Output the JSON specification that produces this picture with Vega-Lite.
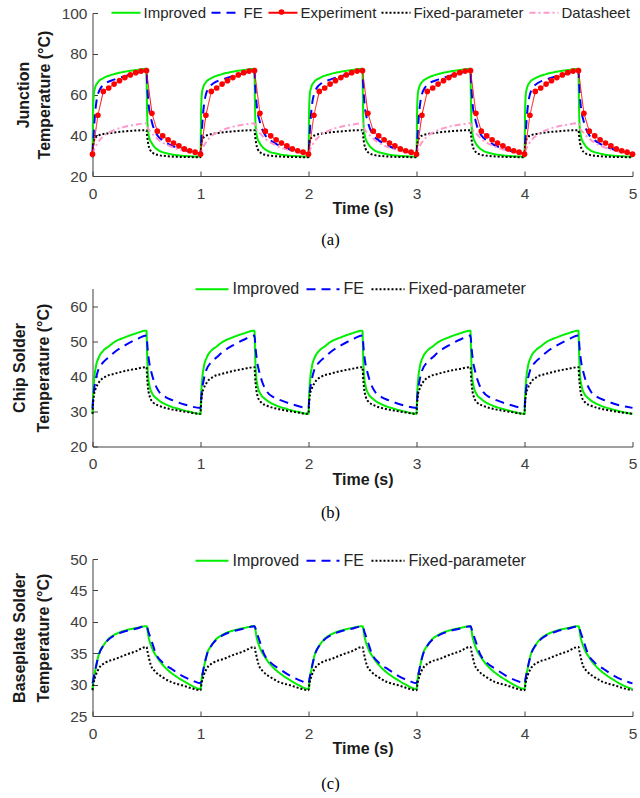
{
"$schema": "https://vega.github.io/schema/vega-lite/v6.json",
"autosize": {"type": "pad"},
"padding": {"left": 10.5, "top": -3, "right": 0, "bottom": 0},
"spacing": 112.5,
"bounds": "flush",
"datasets": {
"a": [
{"s":"Improved","t":0,"v":29.5},{"s":"Improved","t":0.005,"v":50},{"s":"Improved","t":0.012,"v":60},{"s":"Improved","t":0.025,"v":63.5},{"s":"Improved","t":0.05,"v":66},{"s":"Improved","t":0.1,"v":68},{"s":"Improved","t":0.2,"v":70},{"s":"Improved","t":0.3,"v":71.2},{"s":"Improved","t":0.4,"v":72},{"s":"Improved","t":0.5,"v":72.6},{"s":"Improved","t":0.503,"v":60},{"s":"Improved","t":0.51,"v":45},{"s":"Improved","t":0.525,"v":39},{"s":"Improved","t":0.55,"v":36},{"s":"Improved","t":0.6,"v":33},{"s":"Improved","t":0.7,"v":31},{"s":"Improved","t":0.8,"v":30.1},{"s":"Improved","t":0.9,"v":29.7},
{"s":"Improved","t":1,"v":29.5},{"s":"Improved","t":1.005,"v":50},{"s":"Improved","t":1.012,"v":60},{"s":"Improved","t":1.025,"v":63.5},{"s":"Improved","t":1.05,"v":66},{"s":"Improved","t":1.1,"v":68},{"s":"Improved","t":1.2,"v":70},{"s":"Improved","t":1.3,"v":71.2},{"s":"Improved","t":1.4,"v":72},{"s":"Improved","t":1.5,"v":72.6},{"s":"Improved","t":1.503,"v":60},{"s":"Improved","t":1.51,"v":45},{"s":"Improved","t":1.525,"v":39},{"s":"Improved","t":1.55,"v":36},{"s":"Improved","t":1.6,"v":33},{"s":"Improved","t":1.7,"v":31},{"s":"Improved","t":1.8,"v":30.1},{"s":"Improved","t":1.9,"v":29.7},
{"s":"Improved","t":2,"v":29.5},{"s":"Improved","t":2.005,"v":50},{"s":"Improved","t":2.012,"v":60},{"s":"Improved","t":2.025,"v":63.5},{"s":"Improved","t":2.05,"v":66},{"s":"Improved","t":2.1,"v":68},{"s":"Improved","t":2.2,"v":70},{"s":"Improved","t":2.3,"v":71.2},{"s":"Improved","t":2.4,"v":72},{"s":"Improved","t":2.5,"v":72.6},{"s":"Improved","t":2.503,"v":60},{"s":"Improved","t":2.51,"v":45},{"s":"Improved","t":2.525,"v":39},{"s":"Improved","t":2.55,"v":36},{"s":"Improved","t":2.6,"v":33},{"s":"Improved","t":2.7,"v":31},{"s":"Improved","t":2.8,"v":30.1},{"s":"Improved","t":2.9,"v":29.7},
{"s":"Improved","t":3,"v":29.5},{"s":"Improved","t":3.005,"v":50},{"s":"Improved","t":3.012,"v":60},{"s":"Improved","t":3.025,"v":63.5},{"s":"Improved","t":3.05,"v":66},{"s":"Improved","t":3.1,"v":68},{"s":"Improved","t":3.2,"v":70},{"s":"Improved","t":3.3,"v":71.2},{"s":"Improved","t":3.4,"v":72},{"s":"Improved","t":3.5,"v":72.6},{"s":"Improved","t":3.503,"v":60},{"s":"Improved","t":3.51,"v":45},{"s":"Improved","t":3.525,"v":39},{"s":"Improved","t":3.55,"v":36},{"s":"Improved","t":3.6,"v":33},{"s":"Improved","t":3.7,"v":31},{"s":"Improved","t":3.8,"v":30.1},{"s":"Improved","t":3.9,"v":29.7},
{"s":"Improved","t":4,"v":29.5},{"s":"Improved","t":4.005,"v":50},{"s":"Improved","t":4.012,"v":60},{"s":"Improved","t":4.025,"v":63.5},{"s":"Improved","t":4.05,"v":66},{"s":"Improved","t":4.1,"v":68},{"s":"Improved","t":4.2,"v":70},{"s":"Improved","t":4.3,"v":71.2},{"s":"Improved","t":4.4,"v":72},{"s":"Improved","t":4.5,"v":72.6},{"s":"Improved","t":4.503,"v":60},{"s":"Improved","t":4.51,"v":45},{"s":"Improved","t":4.525,"v":39},{"s":"Improved","t":4.55,"v":36},{"s":"Improved","t":4.6,"v":33},{"s":"Improved","t":4.7,"v":31},{"s":"Improved","t":4.8,"v":30.1},{"s":"Improved","t":4.9,"v":29.7},
{"s":"Improved","t":5,"v":29.5},
{"s":"FE","t":0,"v":31},{"s":"FE","t":0.01,"v":40},{"s":"FE","t":0.02,"v":48},{"s":"FE","t":0.035,"v":56},{"s":"FE","t":0.05,"v":60},{"s":"FE","t":0.08,"v":63.5},{"s":"FE","t":0.12,"v":65.5},{"s":"FE","t":0.2,"v":67.3},{"s":"FE","t":0.3,"v":69},{"s":"FE","t":0.4,"v":70.4},{"s":"FE","t":0.5,"v":71.6},{"s":"FE","t":0.505,"v":66},{"s":"FE","t":0.52,"v":55},{"s":"FE","t":0.55,"v":46.5},{"s":"FE","t":0.6,"v":40},{"s":"FE","t":0.65,"v":37.5},{"s":"FE","t":0.7,"v":35.8},{"s":"FE","t":0.8,"v":33.5},{"s":"FE","t":0.9,"v":32},
{"s":"FE","t":1,"v":31},{"s":"FE","t":1.01,"v":40},{"s":"FE","t":1.02,"v":48},{"s":"FE","t":1.035,"v":56},{"s":"FE","t":1.05,"v":60},{"s":"FE","t":1.08,"v":63.5},{"s":"FE","t":1.12,"v":65.5},{"s":"FE","t":1.2,"v":67.3},{"s":"FE","t":1.3,"v":69},{"s":"FE","t":1.4,"v":70.4},{"s":"FE","t":1.5,"v":71.6},{"s":"FE","t":1.505,"v":66},{"s":"FE","t":1.52,"v":55},{"s":"FE","t":1.55,"v":46.5},{"s":"FE","t":1.6,"v":40},{"s":"FE","t":1.65,"v":37.5},{"s":"FE","t":1.7,"v":35.8},{"s":"FE","t":1.8,"v":33.5},{"s":"FE","t":1.9,"v":32},
{"s":"FE","t":2,"v":31},{"s":"FE","t":2.01,"v":40},{"s":"FE","t":2.02,"v":48},{"s":"FE","t":2.035,"v":56},{"s":"FE","t":2.05,"v":60},{"s":"FE","t":2.08,"v":63.5},{"s":"FE","t":2.12,"v":65.5},{"s":"FE","t":2.2,"v":67.3},{"s":"FE","t":2.3,"v":69},{"s":"FE","t":2.4,"v":70.4},{"s":"FE","t":2.5,"v":71.6},{"s":"FE","t":2.505,"v":66},{"s":"FE","t":2.52,"v":55},{"s":"FE","t":2.55,"v":46.5},{"s":"FE","t":2.6,"v":40},{"s":"FE","t":2.65,"v":37.5},{"s":"FE","t":2.7,"v":35.8},{"s":"FE","t":2.8,"v":33.5},{"s":"FE","t":2.9,"v":32},
{"s":"FE","t":3,"v":31},{"s":"FE","t":3.01,"v":40},{"s":"FE","t":3.02,"v":48},{"s":"FE","t":3.035,"v":56},{"s":"FE","t":3.05,"v":60},{"s":"FE","t":3.08,"v":63.5},{"s":"FE","t":3.12,"v":65.5},{"s":"FE","t":3.2,"v":67.3},{"s":"FE","t":3.3,"v":69},{"s":"FE","t":3.4,"v":70.4},{"s":"FE","t":3.5,"v":71.6},{"s":"FE","t":3.505,"v":66},{"s":"FE","t":3.52,"v":55},{"s":"FE","t":3.55,"v":46.5},{"s":"FE","t":3.6,"v":40},{"s":"FE","t":3.65,"v":37.5},{"s":"FE","t":3.7,"v":35.8},{"s":"FE","t":3.8,"v":33.5},{"s":"FE","t":3.9,"v":32},
{"s":"FE","t":4,"v":31},{"s":"FE","t":4.01,"v":40},{"s":"FE","t":4.02,"v":48},{"s":"FE","t":4.035,"v":56},{"s":"FE","t":4.05,"v":60},{"s":"FE","t":4.08,"v":63.5},{"s":"FE","t":4.12,"v":65.5},{"s":"FE","t":4.2,"v":67.3},{"s":"FE","t":4.3,"v":69},{"s":"FE","t":4.4,"v":70.4},{"s":"FE","t":4.5,"v":71.6},{"s":"FE","t":4.505,"v":66},{"s":"FE","t":4.52,"v":55},{"s":"FE","t":4.55,"v":46.5},{"s":"FE","t":4.6,"v":40},{"s":"FE","t":4.65,"v":37.5},{"s":"FE","t":4.7,"v":35.8},{"s":"FE","t":4.8,"v":33.5},{"s":"FE","t":4.9,"v":32},
{"s":"FE","t":5,"v":31},
{"s":"Experiment","t":0,"v":30.7},{"s":"Experiment","t":0.05,"v":49.8},{"s":"Experiment","t":0.1,"v":61.5},{"s":"Experiment","t":0.15,"v":63.2},{"s":"Experiment","t":0.2,"v":65.1},{"s":"Experiment","t":0.25,"v":66.8},{"s":"Experiment","t":0.3,"v":68.3},{"s":"Experiment","t":0.35,"v":69.6},{"s":"Experiment","t":0.4,"v":70.7},{"s":"Experiment","t":0.45,"v":71.5},{"s":"Experiment","t":0.5,"v":71.7},{"s":"Experiment","t":0.55,"v":50.8},{"s":"Experiment","t":0.6,"v":42},{"s":"Experiment","t":0.65,"v":39.7},{"s":"Experiment","t":0.7,"v":37.8},{"s":"Experiment","t":0.75,"v":36.2},{"s":"Experiment","t":0.8,"v":34.8},{"s":"Experiment","t":0.85,"v":33.3},{"s":"Experiment","t":0.9,"v":32.4},{"s":"Experiment","t":0.95,"v":31.7},
{"s":"Experiment","t":1,"v":30.7},{"s":"Experiment","t":1.05,"v":49.8},{"s":"Experiment","t":1.1,"v":61.5},{"s":"Experiment","t":1.15,"v":63.2},{"s":"Experiment","t":1.2,"v":65.1},{"s":"Experiment","t":1.25,"v":66.8},{"s":"Experiment","t":1.3,"v":68.3},{"s":"Experiment","t":1.35,"v":69.6},{"s":"Experiment","t":1.4,"v":70.7},{"s":"Experiment","t":1.45,"v":71.5},{"s":"Experiment","t":1.5,"v":71.7},{"s":"Experiment","t":1.55,"v":50.8},{"s":"Experiment","t":1.6,"v":42},{"s":"Experiment","t":1.65,"v":39.7},{"s":"Experiment","t":1.7,"v":37.8},{"s":"Experiment","t":1.75,"v":36.2},{"s":"Experiment","t":1.8,"v":34.8},{"s":"Experiment","t":1.85,"v":33.3},{"s":"Experiment","t":1.9,"v":32.4},{"s":"Experiment","t":1.95,"v":31.7},
{"s":"Experiment","t":2,"v":30.7},{"s":"Experiment","t":2.05,"v":49.8},{"s":"Experiment","t":2.1,"v":61.5},{"s":"Experiment","t":2.15,"v":63.2},{"s":"Experiment","t":2.2,"v":65.1},{"s":"Experiment","t":2.25,"v":66.8},{"s":"Experiment","t":2.3,"v":68.3},{"s":"Experiment","t":2.35,"v":69.6},{"s":"Experiment","t":2.4,"v":70.7},{"s":"Experiment","t":2.45,"v":71.5},{"s":"Experiment","t":2.5,"v":71.7},{"s":"Experiment","t":2.55,"v":50.8},{"s":"Experiment","t":2.6,"v":42},{"s":"Experiment","t":2.65,"v":39.7},{"s":"Experiment","t":2.7,"v":37.8},{"s":"Experiment","t":2.75,"v":36.2},{"s":"Experiment","t":2.8,"v":34.8},{"s":"Experiment","t":2.85,"v":33.3},{"s":"Experiment","t":2.9,"v":32.4},{"s":"Experiment","t":2.95,"v":31.7},
{"s":"Experiment","t":3,"v":30.7},{"s":"Experiment","t":3.05,"v":49.8},{"s":"Experiment","t":3.1,"v":61.5},{"s":"Experiment","t":3.15,"v":63.2},{"s":"Experiment","t":3.2,"v":65.1},{"s":"Experiment","t":3.25,"v":66.8},{"s":"Experiment","t":3.3,"v":68.3},{"s":"Experiment","t":3.35,"v":69.6},{"s":"Experiment","t":3.4,"v":70.7},{"s":"Experiment","t":3.45,"v":71.5},{"s":"Experiment","t":3.5,"v":71.7},{"s":"Experiment","t":3.55,"v":50.8},{"s":"Experiment","t":3.6,"v":42},{"s":"Experiment","t":3.65,"v":39.7},{"s":"Experiment","t":3.7,"v":37.8},{"s":"Experiment","t":3.75,"v":36.2},{"s":"Experiment","t":3.8,"v":34.8},{"s":"Experiment","t":3.85,"v":33.3},{"s":"Experiment","t":3.9,"v":32.4},{"s":"Experiment","t":3.95,"v":31.7},
{"s":"Experiment","t":4,"v":30.7},{"s":"Experiment","t":4.05,"v":49.8},{"s":"Experiment","t":4.1,"v":61.5},{"s":"Experiment","t":4.15,"v":63.2},{"s":"Experiment","t":4.2,"v":65.1},{"s":"Experiment","t":4.25,"v":66.8},{"s":"Experiment","t":4.3,"v":68.3},{"s":"Experiment","t":4.35,"v":69.6},{"s":"Experiment","t":4.4,"v":70.7},{"s":"Experiment","t":4.45,"v":71.5},{"s":"Experiment","t":4.5,"v":71.7},{"s":"Experiment","t":4.55,"v":50.8},{"s":"Experiment","t":4.6,"v":42},{"s":"Experiment","t":4.65,"v":39.7},{"s":"Experiment","t":4.7,"v":37.8},{"s":"Experiment","t":4.75,"v":36.2},{"s":"Experiment","t":4.8,"v":34.8},{"s":"Experiment","t":4.85,"v":33.3},{"s":"Experiment","t":4.9,"v":32.4},{"s":"Experiment","t":4.95,"v":31.7},
{"s":"Experiment","t":5,"v":30.7},
{"s":"Fixed-parameter","t":0,"v":29.2},{"s":"Fixed-parameter","t":0.005,"v":34},{"s":"Fixed-parameter","t":0.015,"v":37.5},{"s":"Fixed-parameter","t":0.03,"v":39},{"s":"Fixed-parameter","t":0.06,"v":40},{"s":"Fixed-parameter","t":0.15,"v":41},{"s":"Fixed-parameter","t":0.3,"v":41.9},{"s":"Fixed-parameter","t":0.5,"v":42.5},{"s":"Fixed-parameter","t":0.505,"v":40},{"s":"Fixed-parameter","t":0.515,"v":36},{"s":"Fixed-parameter","t":0.53,"v":33.2},{"s":"Fixed-parameter","t":0.56,"v":31.3},{"s":"Fixed-parameter","t":0.6,"v":30.4},{"s":"Fixed-parameter","t":0.7,"v":29.7},{"s":"Fixed-parameter","t":0.8,"v":29.4},{"s":"Fixed-parameter","t":0.9,"v":29.3},
{"s":"Fixed-parameter","t":1,"v":29.2},{"s":"Fixed-parameter","t":1.005,"v":34},{"s":"Fixed-parameter","t":1.015,"v":37.5},{"s":"Fixed-parameter","t":1.03,"v":39},{"s":"Fixed-parameter","t":1.06,"v":40},{"s":"Fixed-parameter","t":1.15,"v":41},{"s":"Fixed-parameter","t":1.3,"v":41.9},{"s":"Fixed-parameter","t":1.5,"v":42.5},{"s":"Fixed-parameter","t":1.505,"v":40},{"s":"Fixed-parameter","t":1.515,"v":36},{"s":"Fixed-parameter","t":1.53,"v":33.2},{"s":"Fixed-parameter","t":1.56,"v":31.3},{"s":"Fixed-parameter","t":1.6,"v":30.4},{"s":"Fixed-parameter","t":1.7,"v":29.7},{"s":"Fixed-parameter","t":1.8,"v":29.4},{"s":"Fixed-parameter","t":1.9,"v":29.3},
{"s":"Fixed-parameter","t":2,"v":29.2},{"s":"Fixed-parameter","t":2.005,"v":34},{"s":"Fixed-parameter","t":2.015,"v":37.5},{"s":"Fixed-parameter","t":2.03,"v":39},{"s":"Fixed-parameter","t":2.06,"v":40},{"s":"Fixed-parameter","t":2.15,"v":41},{"s":"Fixed-parameter","t":2.3,"v":41.9},{"s":"Fixed-parameter","t":2.5,"v":42.5},{"s":"Fixed-parameter","t":2.505,"v":40},{"s":"Fixed-parameter","t":2.515,"v":36},{"s":"Fixed-parameter","t":2.53,"v":33.2},{"s":"Fixed-parameter","t":2.56,"v":31.3},{"s":"Fixed-parameter","t":2.6,"v":30.4},{"s":"Fixed-parameter","t":2.7,"v":29.7},{"s":"Fixed-parameter","t":2.8,"v":29.4},{"s":"Fixed-parameter","t":2.9,"v":29.3},
{"s":"Fixed-parameter","t":3,"v":29.2},{"s":"Fixed-parameter","t":3.005,"v":34},{"s":"Fixed-parameter","t":3.015,"v":37.5},{"s":"Fixed-parameter","t":3.03,"v":39},{"s":"Fixed-parameter","t":3.06,"v":40},{"s":"Fixed-parameter","t":3.15,"v":41},{"s":"Fixed-parameter","t":3.3,"v":41.9},{"s":"Fixed-parameter","t":3.5,"v":42.5},{"s":"Fixed-parameter","t":3.505,"v":40},{"s":"Fixed-parameter","t":3.515,"v":36},{"s":"Fixed-parameter","t":3.53,"v":33.2},{"s":"Fixed-parameter","t":3.56,"v":31.3},{"s":"Fixed-parameter","t":3.6,"v":30.4},{"s":"Fixed-parameter","t":3.7,"v":29.7},{"s":"Fixed-parameter","t":3.8,"v":29.4},{"s":"Fixed-parameter","t":3.9,"v":29.3},
{"s":"Fixed-parameter","t":4,"v":29.2},{"s":"Fixed-parameter","t":4.005,"v":34},{"s":"Fixed-parameter","t":4.015,"v":37.5},{"s":"Fixed-parameter","t":4.03,"v":39},{"s":"Fixed-parameter","t":4.06,"v":40},{"s":"Fixed-parameter","t":4.15,"v":41},{"s":"Fixed-parameter","t":4.3,"v":41.9},{"s":"Fixed-parameter","t":4.5,"v":42.5},{"s":"Fixed-parameter","t":4.505,"v":40},{"s":"Fixed-parameter","t":4.515,"v":36},{"s":"Fixed-parameter","t":4.53,"v":33.2},{"s":"Fixed-parameter","t":4.56,"v":31.3},{"s":"Fixed-parameter","t":4.6,"v":30.4},{"s":"Fixed-parameter","t":4.7,"v":29.7},{"s":"Fixed-parameter","t":4.8,"v":29.4},{"s":"Fixed-parameter","t":4.9,"v":29.3},
{"s":"Fixed-parameter","t":5,"v":29.2},
{"s":"Datasheet","t":0,"v":30.8},{"s":"Datasheet","t":0.015,"v":33},{"s":"Datasheet","t":0.05,"v":36.5},{"s":"Datasheet","t":0.1,"v":39.5},{"s":"Datasheet","t":0.2,"v":42.5},{"s":"Datasheet","t":0.3,"v":44.2},{"s":"Datasheet","t":0.4,"v":45.2},{"s":"Datasheet","t":0.5,"v":45.9},{"s":"Datasheet","t":0.51,"v":44},{"s":"Datasheet","t":0.55,"v":41},{"s":"Datasheet","t":0.6,"v":38.3},{"s":"Datasheet","t":0.7,"v":35},{"s":"Datasheet","t":0.8,"v":33},{"s":"Datasheet","t":0.9,"v":31.8},
{"s":"Datasheet","t":1,"v":30.8},{"s":"Datasheet","t":1.015,"v":33},{"s":"Datasheet","t":1.05,"v":36.5},{"s":"Datasheet","t":1.1,"v":39.5},{"s":"Datasheet","t":1.2,"v":42.5},{"s":"Datasheet","t":1.3,"v":44.2},{"s":"Datasheet","t":1.4,"v":45.2},{"s":"Datasheet","t":1.5,"v":45.9},{"s":"Datasheet","t":1.51,"v":44},{"s":"Datasheet","t":1.55,"v":41},{"s":"Datasheet","t":1.6,"v":38.3},{"s":"Datasheet","t":1.7,"v":35},{"s":"Datasheet","t":1.8,"v":33},{"s":"Datasheet","t":1.9,"v":31.8},
{"s":"Datasheet","t":2,"v":30.8},{"s":"Datasheet","t":2.015,"v":33},{"s":"Datasheet","t":2.05,"v":36.5},{"s":"Datasheet","t":2.1,"v":39.5},{"s":"Datasheet","t":2.2,"v":42.5},{"s":"Datasheet","t":2.3,"v":44.2},{"s":"Datasheet","t":2.4,"v":45.2},{"s":"Datasheet","t":2.5,"v":45.9},{"s":"Datasheet","t":2.51,"v":44},{"s":"Datasheet","t":2.55,"v":41},{"s":"Datasheet","t":2.6,"v":38.3},{"s":"Datasheet","t":2.7,"v":35},{"s":"Datasheet","t":2.8,"v":33},{"s":"Datasheet","t":2.9,"v":31.8},
{"s":"Datasheet","t":3,"v":30.8},{"s":"Datasheet","t":3.015,"v":33},{"s":"Datasheet","t":3.05,"v":36.5},{"s":"Datasheet","t":3.1,"v":39.5},{"s":"Datasheet","t":3.2,"v":42.5},{"s":"Datasheet","t":3.3,"v":44.2},{"s":"Datasheet","t":3.4,"v":45.2},{"s":"Datasheet","t":3.5,"v":45.9},{"s":"Datasheet","t":3.51,"v":44},{"s":"Datasheet","t":3.55,"v":41},{"s":"Datasheet","t":3.6,"v":38.3},{"s":"Datasheet","t":3.7,"v":35},{"s":"Datasheet","t":3.8,"v":33},{"s":"Datasheet","t":3.9,"v":31.8},
{"s":"Datasheet","t":4,"v":30.8},{"s":"Datasheet","t":4.015,"v":33},{"s":"Datasheet","t":4.05,"v":36.5},{"s":"Datasheet","t":4.1,"v":39.5},{"s":"Datasheet","t":4.2,"v":42.5},{"s":"Datasheet","t":4.3,"v":44.2},{"s":"Datasheet","t":4.4,"v":45.2},{"s":"Datasheet","t":4.5,"v":45.9},{"s":"Datasheet","t":4.51,"v":44},{"s":"Datasheet","t":4.55,"v":41},{"s":"Datasheet","t":4.6,"v":38.3},{"s":"Datasheet","t":4.7,"v":35},{"s":"Datasheet","t":4.8,"v":33},{"s":"Datasheet","t":4.9,"v":31.8},
{"s":"Datasheet","t":5,"v":30.8}
],
"b": [
{"s":"Improved","t":0,"v":29.3},{"s":"Improved","t":0.005,"v":34},{"s":"Improved","t":0.015,"v":39},{"s":"Improved","t":0.03,"v":42.5},{"s":"Improved","t":0.06,"v":45.5},{"s":"Improved","t":0.1,"v":47.3},{"s":"Improved","t":0.15,"v":48.5},{"s":"Improved","t":0.2,"v":49.7},{"s":"Improved","t":0.3,"v":51.1},{"s":"Improved","t":0.4,"v":52.2},{"s":"Improved","t":0.5,"v":53},{"s":"Improved","t":0.505,"v":47},{"s":"Improved","t":0.515,"v":40},{"s":"Improved","t":0.53,"v":37},{"s":"Improved","t":0.555,"v":35},{"s":"Improved","t":0.6,"v":33.5},{"s":"Improved","t":0.7,"v":31.7},{"s":"Improved","t":0.8,"v":30.7},{"s":"Improved","t":0.9,"v":29.9},
{"s":"Improved","t":1,"v":29.3},{"s":"Improved","t":1.005,"v":34},{"s":"Improved","t":1.015,"v":39},{"s":"Improved","t":1.03,"v":42.5},{"s":"Improved","t":1.06,"v":45.5},{"s":"Improved","t":1.1,"v":47.3},{"s":"Improved","t":1.15,"v":48.5},{"s":"Improved","t":1.2,"v":49.7},{"s":"Improved","t":1.3,"v":51.1},{"s":"Improved","t":1.4,"v":52.2},{"s":"Improved","t":1.5,"v":53},{"s":"Improved","t":1.505,"v":47},{"s":"Improved","t":1.515,"v":40},{"s":"Improved","t":1.53,"v":37},{"s":"Improved","t":1.555,"v":35},{"s":"Improved","t":1.6,"v":33.5},{"s":"Improved","t":1.7,"v":31.7},{"s":"Improved","t":1.8,"v":30.7},{"s":"Improved","t":1.9,"v":29.9},
{"s":"Improved","t":2,"v":29.3},{"s":"Improved","t":2.005,"v":34},{"s":"Improved","t":2.015,"v":39},{"s":"Improved","t":2.03,"v":42.5},{"s":"Improved","t":2.06,"v":45.5},{"s":"Improved","t":2.1,"v":47.3},{"s":"Improved","t":2.15,"v":48.5},{"s":"Improved","t":2.2,"v":49.7},{"s":"Improved","t":2.3,"v":51.1},{"s":"Improved","t":2.4,"v":52.2},{"s":"Improved","t":2.5,"v":53},{"s":"Improved","t":2.505,"v":47},{"s":"Improved","t":2.515,"v":40},{"s":"Improved","t":2.53,"v":37},{"s":"Improved","t":2.555,"v":35},{"s":"Improved","t":2.6,"v":33.5},{"s":"Improved","t":2.7,"v":31.7},{"s":"Improved","t":2.8,"v":30.7},{"s":"Improved","t":2.9,"v":29.9},
{"s":"Improved","t":3,"v":29.3},{"s":"Improved","t":3.005,"v":34},{"s":"Improved","t":3.015,"v":39},{"s":"Improved","t":3.03,"v":42.5},{"s":"Improved","t":3.06,"v":45.5},{"s":"Improved","t":3.1,"v":47.3},{"s":"Improved","t":3.15,"v":48.5},{"s":"Improved","t":3.2,"v":49.7},{"s":"Improved","t":3.3,"v":51.1},{"s":"Improved","t":3.4,"v":52.2},{"s":"Improved","t":3.5,"v":53},{"s":"Improved","t":3.505,"v":47},{"s":"Improved","t":3.515,"v":40},{"s":"Improved","t":3.53,"v":37},{"s":"Improved","t":3.555,"v":35},{"s":"Improved","t":3.6,"v":33.5},{"s":"Improved","t":3.7,"v":31.7},{"s":"Improved","t":3.8,"v":30.7},{"s":"Improved","t":3.9,"v":29.9},
{"s":"Improved","t":4,"v":29.3},{"s":"Improved","t":4.005,"v":34},{"s":"Improved","t":4.015,"v":39},{"s":"Improved","t":4.03,"v":42.5},{"s":"Improved","t":4.06,"v":45.5},{"s":"Improved","t":4.1,"v":47.3},{"s":"Improved","t":4.15,"v":48.5},{"s":"Improved","t":4.2,"v":49.7},{"s":"Improved","t":4.3,"v":51.1},{"s":"Improved","t":4.4,"v":52.2},{"s":"Improved","t":4.5,"v":53},{"s":"Improved","t":4.505,"v":47},{"s":"Improved","t":4.515,"v":40},{"s":"Improved","t":4.53,"v":37},{"s":"Improved","t":4.555,"v":35},{"s":"Improved","t":4.6,"v":33.5},{"s":"Improved","t":4.7,"v":31.7},{"s":"Improved","t":4.8,"v":30.7},{"s":"Improved","t":4.9,"v":29.9},
{"s":"Improved","t":5,"v":29.3},
{"s":"FE","t":0,"v":31},{"s":"FE","t":0.01,"v":35},{"s":"FE","t":0.03,"v":39},{"s":"FE","t":0.05,"v":41.5},{"s":"FE","t":0.1,"v":44},{"s":"FE","t":0.15,"v":45.4},{"s":"FE","t":0.2,"v":46.8},{"s":"FE","t":0.3,"v":48.8},{"s":"FE","t":0.4,"v":50.4},{"s":"FE","t":0.5,"v":51.6},{"s":"FE","t":0.51,"v":48},{"s":"FE","t":0.525,"v":44},{"s":"FE","t":0.54,"v":41.8},{"s":"FE","t":0.57,"v":38.5},{"s":"FE","t":0.616,"v":35.6},{"s":"FE","t":0.68,"v":34},{"s":"FE","t":0.74,"v":33.2},{"s":"FE","t":0.86,"v":31.9},
{"s":"FE","t":1,"v":31},{"s":"FE","t":1.01,"v":35},{"s":"FE","t":1.03,"v":39},{"s":"FE","t":1.05,"v":41.5},{"s":"FE","t":1.1,"v":44},{"s":"FE","t":1.15,"v":45.4},{"s":"FE","t":1.2,"v":46.8},{"s":"FE","t":1.3,"v":48.8},{"s":"FE","t":1.4,"v":50.4},{"s":"FE","t":1.5,"v":51.6},{"s":"FE","t":1.51,"v":48},{"s":"FE","t":1.525,"v":44},{"s":"FE","t":1.54,"v":41.8},{"s":"FE","t":1.57,"v":38.5},{"s":"FE","t":1.616,"v":35.6},{"s":"FE","t":1.68,"v":34},{"s":"FE","t":1.74,"v":33.2},{"s":"FE","t":1.86,"v":31.9},
{"s":"FE","t":2,"v":31},{"s":"FE","t":2.01,"v":35},{"s":"FE","t":2.03,"v":39},{"s":"FE","t":2.05,"v":41.5},{"s":"FE","t":2.1,"v":44},{"s":"FE","t":2.15,"v":45.4},{"s":"FE","t":2.2,"v":46.8},{"s":"FE","t":2.3,"v":48.8},{"s":"FE","t":2.4,"v":50.4},{"s":"FE","t":2.5,"v":51.6},{"s":"FE","t":2.51,"v":48},{"s":"FE","t":2.525,"v":44},{"s":"FE","t":2.54,"v":41.8},{"s":"FE","t":2.57,"v":38.5},{"s":"FE","t":2.616,"v":35.6},{"s":"FE","t":2.68,"v":34},{"s":"FE","t":2.74,"v":33.2},{"s":"FE","t":2.86,"v":31.9},
{"s":"FE","t":3,"v":31},{"s":"FE","t":3.01,"v":35},{"s":"FE","t":3.03,"v":39},{"s":"FE","t":3.05,"v":41.5},{"s":"FE","t":3.1,"v":44},{"s":"FE","t":3.15,"v":45.4},{"s":"FE","t":3.2,"v":46.8},{"s":"FE","t":3.3,"v":48.8},{"s":"FE","t":3.4,"v":50.4},{"s":"FE","t":3.5,"v":51.6},{"s":"FE","t":3.51,"v":48},{"s":"FE","t":3.525,"v":44},{"s":"FE","t":3.54,"v":41.8},{"s":"FE","t":3.57,"v":38.5},{"s":"FE","t":3.616,"v":35.6},{"s":"FE","t":3.68,"v":34},{"s":"FE","t":3.74,"v":33.2},{"s":"FE","t":3.86,"v":31.9},
{"s":"FE","t":4,"v":31},{"s":"FE","t":4.01,"v":35},{"s":"FE","t":4.03,"v":39},{"s":"FE","t":4.05,"v":41.5},{"s":"FE","t":4.1,"v":44},{"s":"FE","t":4.15,"v":45.4},{"s":"FE","t":4.2,"v":46.8},{"s":"FE","t":4.3,"v":48.8},{"s":"FE","t":4.4,"v":50.4},{"s":"FE","t":4.5,"v":51.6},{"s":"FE","t":4.51,"v":48},{"s":"FE","t":4.525,"v":44},{"s":"FE","t":4.54,"v":41.8},{"s":"FE","t":4.57,"v":38.5},{"s":"FE","t":4.616,"v":35.6},{"s":"FE","t":4.68,"v":34},{"s":"FE","t":4.74,"v":33.2},{"s":"FE","t":4.86,"v":31.9},
{"s":"FE","t":5,"v":31},
{"s":"Fixed-parameter","t":0,"v":29.3},{"s":"Fixed-parameter","t":0.005,"v":32},{"s":"Fixed-parameter","t":0.015,"v":35},{"s":"Fixed-parameter","t":0.03,"v":36.5},{"s":"Fixed-parameter","t":0.06,"v":38.3},{"s":"Fixed-parameter","t":0.12,"v":39.9},{"s":"Fixed-parameter","t":0.2,"v":40.7},{"s":"Fixed-parameter","t":0.3,"v":41.5},{"s":"Fixed-parameter","t":0.4,"v":42.1},{"s":"Fixed-parameter","t":0.5,"v":42.6},{"s":"Fixed-parameter","t":0.505,"v":40},{"s":"Fixed-parameter","t":0.515,"v":36.5},{"s":"Fixed-parameter","t":0.53,"v":34.2},{"s":"Fixed-parameter","t":0.56,"v":32.6},{"s":"Fixed-parameter","t":0.616,"v":31.6},{"s":"Fixed-parameter","t":0.7,"v":30.8},{"s":"Fixed-parameter","t":0.8,"v":30.2},{"s":"Fixed-parameter","t":0.9,"v":29.7},
{"s":"Fixed-parameter","t":1,"v":29.3},{"s":"Fixed-parameter","t":1.005,"v":32},{"s":"Fixed-parameter","t":1.015,"v":35},{"s":"Fixed-parameter","t":1.03,"v":36.5},{"s":"Fixed-parameter","t":1.06,"v":38.3},{"s":"Fixed-parameter","t":1.12,"v":39.9},{"s":"Fixed-parameter","t":1.2,"v":40.7},{"s":"Fixed-parameter","t":1.3,"v":41.5},{"s":"Fixed-parameter","t":1.4,"v":42.1},{"s":"Fixed-parameter","t":1.5,"v":42.6},{"s":"Fixed-parameter","t":1.505,"v":40},{"s":"Fixed-parameter","t":1.515,"v":36.5},{"s":"Fixed-parameter","t":1.53,"v":34.2},{"s":"Fixed-parameter","t":1.56,"v":32.6},{"s":"Fixed-parameter","t":1.616,"v":31.6},{"s":"Fixed-parameter","t":1.7,"v":30.8},{"s":"Fixed-parameter","t":1.8,"v":30.2},{"s":"Fixed-parameter","t":1.9,"v":29.7},
{"s":"Fixed-parameter","t":2,"v":29.3},{"s":"Fixed-parameter","t":2.005,"v":32},{"s":"Fixed-parameter","t":2.015,"v":35},{"s":"Fixed-parameter","t":2.03,"v":36.5},{"s":"Fixed-parameter","t":2.06,"v":38.3},{"s":"Fixed-parameter","t":2.12,"v":39.9},{"s":"Fixed-parameter","t":2.2,"v":40.7},{"s":"Fixed-parameter","t":2.3,"v":41.5},{"s":"Fixed-parameter","t":2.4,"v":42.1},{"s":"Fixed-parameter","t":2.5,"v":42.6},{"s":"Fixed-parameter","t":2.505,"v":40},{"s":"Fixed-parameter","t":2.515,"v":36.5},{"s":"Fixed-parameter","t":2.53,"v":34.2},{"s":"Fixed-parameter","t":2.56,"v":32.6},{"s":"Fixed-parameter","t":2.616,"v":31.6},{"s":"Fixed-parameter","t":2.7,"v":30.8},{"s":"Fixed-parameter","t":2.8,"v":30.2},{"s":"Fixed-parameter","t":2.9,"v":29.7},
{"s":"Fixed-parameter","t":3,"v":29.3},{"s":"Fixed-parameter","t":3.005,"v":32},{"s":"Fixed-parameter","t":3.015,"v":35},{"s":"Fixed-parameter","t":3.03,"v":36.5},{"s":"Fixed-parameter","t":3.06,"v":38.3},{"s":"Fixed-parameter","t":3.12,"v":39.9},{"s":"Fixed-parameter","t":3.2,"v":40.7},{"s":"Fixed-parameter","t":3.3,"v":41.5},{"s":"Fixed-parameter","t":3.4,"v":42.1},{"s":"Fixed-parameter","t":3.5,"v":42.6},{"s":"Fixed-parameter","t":3.505,"v":40},{"s":"Fixed-parameter","t":3.515,"v":36.5},{"s":"Fixed-parameter","t":3.53,"v":34.2},{"s":"Fixed-parameter","t":3.56,"v":32.6},{"s":"Fixed-parameter","t":3.616,"v":31.6},{"s":"Fixed-parameter","t":3.7,"v":30.8},{"s":"Fixed-parameter","t":3.8,"v":30.2},{"s":"Fixed-parameter","t":3.9,"v":29.7},
{"s":"Fixed-parameter","t":4,"v":29.3},{"s":"Fixed-parameter","t":4.005,"v":32},{"s":"Fixed-parameter","t":4.015,"v":35},{"s":"Fixed-parameter","t":4.03,"v":36.5},{"s":"Fixed-parameter","t":4.06,"v":38.3},{"s":"Fixed-parameter","t":4.12,"v":39.9},{"s":"Fixed-parameter","t":4.2,"v":40.7},{"s":"Fixed-parameter","t":4.3,"v":41.5},{"s":"Fixed-parameter","t":4.4,"v":42.1},{"s":"Fixed-parameter","t":4.5,"v":42.6},{"s":"Fixed-parameter","t":4.505,"v":40},{"s":"Fixed-parameter","t":4.515,"v":36.5},{"s":"Fixed-parameter","t":4.53,"v":34.2},{"s":"Fixed-parameter","t":4.56,"v":32.6},{"s":"Fixed-parameter","t":4.616,"v":31.6},{"s":"Fixed-parameter","t":4.7,"v":30.8},{"s":"Fixed-parameter","t":4.8,"v":30.2},{"s":"Fixed-parameter","t":4.9,"v":29.7},
{"s":"Fixed-parameter","t":5,"v":29.3}
],
"c": [
{"s":"Improved","t":0,"v":29.3},{"s":"Improved","t":0.01,"v":30.8},{"s":"Improved","t":0.03,"v":32.6},{"s":"Improved","t":0.06,"v":34.9},{"s":"Improved","t":0.1,"v":36.2},{"s":"Improved","t":0.15,"v":37.3},{"s":"Improved","t":0.2,"v":37.9},{"s":"Improved","t":0.3,"v":38.6},{"s":"Improved","t":0.4,"v":39},{"s":"Improved","t":0.5,"v":39.3},{"s":"Improved","t":0.52,"v":37.5},{"s":"Improved","t":0.554,"v":35.7},{"s":"Improved","t":0.6,"v":34.3},{"s":"Improved","t":0.68,"v":32.6},{"s":"Improved","t":0.75,"v":31.6},{"s":"Improved","t":0.83,"v":30.7},{"s":"Improved","t":0.9,"v":30},
{"s":"Improved","t":1,"v":29.3},{"s":"Improved","t":1.01,"v":30.8},{"s":"Improved","t":1.03,"v":32.6},{"s":"Improved","t":1.06,"v":34.9},{"s":"Improved","t":1.1,"v":36.2},{"s":"Improved","t":1.15,"v":37.3},{"s":"Improved","t":1.2,"v":37.9},{"s":"Improved","t":1.3,"v":38.6},{"s":"Improved","t":1.4,"v":39},{"s":"Improved","t":1.5,"v":39.3},{"s":"Improved","t":1.52,"v":37.5},{"s":"Improved","t":1.554,"v":35.7},{"s":"Improved","t":1.6,"v":34.3},{"s":"Improved","t":1.68,"v":32.6},{"s":"Improved","t":1.75,"v":31.6},{"s":"Improved","t":1.83,"v":30.7},{"s":"Improved","t":1.9,"v":30},
{"s":"Improved","t":2,"v":29.3},{"s":"Improved","t":2.01,"v":30.8},{"s":"Improved","t":2.03,"v":32.6},{"s":"Improved","t":2.06,"v":34.9},{"s":"Improved","t":2.1,"v":36.2},{"s":"Improved","t":2.15,"v":37.3},{"s":"Improved","t":2.2,"v":37.9},{"s":"Improved","t":2.3,"v":38.6},{"s":"Improved","t":2.4,"v":39},{"s":"Improved","t":2.5,"v":39.3},{"s":"Improved","t":2.52,"v":37.5},{"s":"Improved","t":2.554,"v":35.7},{"s":"Improved","t":2.6,"v":34.3},{"s":"Improved","t":2.68,"v":32.6},{"s":"Improved","t":2.75,"v":31.6},{"s":"Improved","t":2.83,"v":30.7},{"s":"Improved","t":2.9,"v":30},
{"s":"Improved","t":3,"v":29.3},{"s":"Improved","t":3.01,"v":30.8},{"s":"Improved","t":3.03,"v":32.6},{"s":"Improved","t":3.06,"v":34.9},{"s":"Improved","t":3.1,"v":36.2},{"s":"Improved","t":3.15,"v":37.3},{"s":"Improved","t":3.2,"v":37.9},{"s":"Improved","t":3.3,"v":38.6},{"s":"Improved","t":3.4,"v":39},{"s":"Improved","t":3.5,"v":39.3},{"s":"Improved","t":3.52,"v":37.5},{"s":"Improved","t":3.554,"v":35.7},{"s":"Improved","t":3.6,"v":34.3},{"s":"Improved","t":3.68,"v":32.6},{"s":"Improved","t":3.75,"v":31.6},{"s":"Improved","t":3.83,"v":30.7},{"s":"Improved","t":3.9,"v":30},
{"s":"Improved","t":4,"v":29.3},{"s":"Improved","t":4.01,"v":30.8},{"s":"Improved","t":4.03,"v":32.6},{"s":"Improved","t":4.06,"v":34.9},{"s":"Improved","t":4.1,"v":36.2},{"s":"Improved","t":4.15,"v":37.3},{"s":"Improved","t":4.2,"v":37.9},{"s":"Improved","t":4.3,"v":38.6},{"s":"Improved","t":4.4,"v":39},{"s":"Improved","t":4.5,"v":39.3},{"s":"Improved","t":4.52,"v":37.5},{"s":"Improved","t":4.554,"v":35.7},{"s":"Improved","t":4.6,"v":34.3},{"s":"Improved","t":4.68,"v":32.6},{"s":"Improved","t":4.75,"v":31.6},{"s":"Improved","t":4.83,"v":30.7},{"s":"Improved","t":4.9,"v":30},
{"s":"Improved","t":5,"v":29.3},
{"s":"FE","t":0,"v":30.2},{"s":"FE","t":0.01,"v":31},{"s":"FE","t":0.03,"v":32.7},{"s":"FE","t":0.06,"v":34.8},{"s":"FE","t":0.1,"v":36.2},{"s":"FE","t":0.15,"v":37.2},{"s":"FE","t":0.2,"v":37.8},{"s":"FE","t":0.3,"v":38.5},{"s":"FE","t":0.4,"v":38.9},{"s":"FE","t":0.5,"v":39.3},{"s":"FE","t":0.52,"v":38.3},{"s":"FE","t":0.55,"v":36.8},{"s":"FE","t":0.585,"v":35},{"s":"FE","t":0.65,"v":33.5},{"s":"FE","t":0.74,"v":32.4},{"s":"FE","t":0.83,"v":31.4},{"s":"FE","t":0.93,"v":30.6},
{"s":"FE","t":1,"v":30.2},{"s":"FE","t":1.01,"v":31},{"s":"FE","t":1.03,"v":32.7},{"s":"FE","t":1.06,"v":34.8},{"s":"FE","t":1.1,"v":36.2},{"s":"FE","t":1.15,"v":37.2},{"s":"FE","t":1.2,"v":37.8},{"s":"FE","t":1.3,"v":38.5},{"s":"FE","t":1.4,"v":38.9},{"s":"FE","t":1.5,"v":39.3},{"s":"FE","t":1.52,"v":38.3},{"s":"FE","t":1.55,"v":36.8},{"s":"FE","t":1.585,"v":35},{"s":"FE","t":1.65,"v":33.5},{"s":"FE","t":1.74,"v":32.4},{"s":"FE","t":1.83,"v":31.4},{"s":"FE","t":1.93,"v":30.6},
{"s":"FE","t":2,"v":30.2},{"s":"FE","t":2.01,"v":31},{"s":"FE","t":2.03,"v":32.7},{"s":"FE","t":2.06,"v":34.8},{"s":"FE","t":2.1,"v":36.2},{"s":"FE","t":2.15,"v":37.2},{"s":"FE","t":2.2,"v":37.8},{"s":"FE","t":2.3,"v":38.5},{"s":"FE","t":2.4,"v":38.9},{"s":"FE","t":2.5,"v":39.3},{"s":"FE","t":2.52,"v":38.3},{"s":"FE","t":2.55,"v":36.8},{"s":"FE","t":2.585,"v":35},{"s":"FE","t":2.65,"v":33.5},{"s":"FE","t":2.74,"v":32.4},{"s":"FE","t":2.83,"v":31.4},{"s":"FE","t":2.93,"v":30.6},
{"s":"FE","t":3,"v":30.2},{"s":"FE","t":3.01,"v":31},{"s":"FE","t":3.03,"v":32.7},{"s":"FE","t":3.06,"v":34.8},{"s":"FE","t":3.1,"v":36.2},{"s":"FE","t":3.15,"v":37.2},{"s":"FE","t":3.2,"v":37.8},{"s":"FE","t":3.3,"v":38.5},{"s":"FE","t":3.4,"v":38.9},{"s":"FE","t":3.5,"v":39.3},{"s":"FE","t":3.52,"v":38.3},{"s":"FE","t":3.55,"v":36.8},{"s":"FE","t":3.585,"v":35},{"s":"FE","t":3.65,"v":33.5},{"s":"FE","t":3.74,"v":32.4},{"s":"FE","t":3.83,"v":31.4},{"s":"FE","t":3.93,"v":30.6},
{"s":"FE","t":4,"v":30.2},{"s":"FE","t":4.01,"v":31},{"s":"FE","t":4.03,"v":32.7},{"s":"FE","t":4.06,"v":34.8},{"s":"FE","t":4.1,"v":36.2},{"s":"FE","t":4.15,"v":37.2},{"s":"FE","t":4.2,"v":37.8},{"s":"FE","t":4.3,"v":38.5},{"s":"FE","t":4.4,"v":38.9},{"s":"FE","t":4.5,"v":39.3},{"s":"FE","t":4.52,"v":38.3},{"s":"FE","t":4.55,"v":36.8},{"s":"FE","t":4.585,"v":35},{"s":"FE","t":4.65,"v":33.5},{"s":"FE","t":4.74,"v":32.4},{"s":"FE","t":4.83,"v":31.4},{"s":"FE","t":4.93,"v":30.6},
{"s":"FE","t":5,"v":30.2},
{"s":"Fixed-parameter","t":0,"v":29.1},{"s":"Fixed-parameter","t":0.01,"v":30.2},{"s":"Fixed-parameter","t":0.03,"v":31.5},{"s":"Fixed-parameter","t":0.06,"v":32.6},{"s":"Fixed-parameter","t":0.12,"v":33.5},{"s":"Fixed-parameter","t":0.216,"v":34.1},{"s":"Fixed-parameter","t":0.3,"v":34.7},{"s":"Fixed-parameter","t":0.4,"v":35.3},{"s":"Fixed-parameter","t":0.5,"v":36},{"s":"Fixed-parameter","t":0.51,"v":35.2},{"s":"Fixed-parameter","t":0.54,"v":33.1},{"s":"Fixed-parameter","t":0.58,"v":32.1},{"s":"Fixed-parameter","t":0.646,"v":31.2},{"s":"Fixed-parameter","t":0.73,"v":30.4},{"s":"Fixed-parameter","t":0.83,"v":29.9},{"s":"Fixed-parameter","t":0.92,"v":29.4},
{"s":"Fixed-parameter","t":1,"v":29.1},{"s":"Fixed-parameter","t":1.01,"v":30.2},{"s":"Fixed-parameter","t":1.03,"v":31.5},{"s":"Fixed-parameter","t":1.06,"v":32.6},{"s":"Fixed-parameter","t":1.12,"v":33.5},{"s":"Fixed-parameter","t":1.216,"v":34.1},{"s":"Fixed-parameter","t":1.3,"v":34.7},{"s":"Fixed-parameter","t":1.4,"v":35.3},{"s":"Fixed-parameter","t":1.5,"v":36},{"s":"Fixed-parameter","t":1.51,"v":35.2},{"s":"Fixed-parameter","t":1.54,"v":33.1},{"s":"Fixed-parameter","t":1.58,"v":32.1},{"s":"Fixed-parameter","t":1.646,"v":31.2},{"s":"Fixed-parameter","t":1.73,"v":30.4},{"s":"Fixed-parameter","t":1.83,"v":29.9},{"s":"Fixed-parameter","t":1.92,"v":29.4},
{"s":"Fixed-parameter","t":2,"v":29.1},{"s":"Fixed-parameter","t":2.01,"v":30.2},{"s":"Fixed-parameter","t":2.03,"v":31.5},{"s":"Fixed-parameter","t":2.06,"v":32.6},{"s":"Fixed-parameter","t":2.12,"v":33.5},{"s":"Fixed-parameter","t":2.216,"v":34.1},{"s":"Fixed-parameter","t":2.3,"v":34.7},{"s":"Fixed-parameter","t":2.4,"v":35.3},{"s":"Fixed-parameter","t":2.5,"v":36},{"s":"Fixed-parameter","t":2.51,"v":35.2},{"s":"Fixed-parameter","t":2.54,"v":33.1},{"s":"Fixed-parameter","t":2.58,"v":32.1},{"s":"Fixed-parameter","t":2.646,"v":31.2},{"s":"Fixed-parameter","t":2.73,"v":30.4},{"s":"Fixed-parameter","t":2.83,"v":29.9},{"s":"Fixed-parameter","t":2.92,"v":29.4},
{"s":"Fixed-parameter","t":3,"v":29.1},{"s":"Fixed-parameter","t":3.01,"v":30.2},{"s":"Fixed-parameter","t":3.03,"v":31.5},{"s":"Fixed-parameter","t":3.06,"v":32.6},{"s":"Fixed-parameter","t":3.12,"v":33.5},{"s":"Fixed-parameter","t":3.216,"v":34.1},{"s":"Fixed-parameter","t":3.3,"v":34.7},{"s":"Fixed-parameter","t":3.4,"v":35.3},{"s":"Fixed-parameter","t":3.5,"v":36},{"s":"Fixed-parameter","t":3.51,"v":35.2},{"s":"Fixed-parameter","t":3.54,"v":33.1},{"s":"Fixed-parameter","t":3.58,"v":32.1},{"s":"Fixed-parameter","t":3.646,"v":31.2},{"s":"Fixed-parameter","t":3.73,"v":30.4},{"s":"Fixed-parameter","t":3.83,"v":29.9},{"s":"Fixed-parameter","t":3.92,"v":29.4},
{"s":"Fixed-parameter","t":4,"v":29.1},{"s":"Fixed-parameter","t":4.01,"v":30.2},{"s":"Fixed-parameter","t":4.03,"v":31.5},{"s":"Fixed-parameter","t":4.06,"v":32.6},{"s":"Fixed-parameter","t":4.12,"v":33.5},{"s":"Fixed-parameter","t":4.216,"v":34.1},{"s":"Fixed-parameter","t":4.3,"v":34.7},{"s":"Fixed-parameter","t":4.4,"v":35.3},{"s":"Fixed-parameter","t":4.5,"v":36},{"s":"Fixed-parameter","t":4.51,"v":35.2},{"s":"Fixed-parameter","t":4.54,"v":33.1},{"s":"Fixed-parameter","t":4.58,"v":32.1},{"s":"Fixed-parameter","t":4.646,"v":31.2},{"s":"Fixed-parameter","t":4.73,"v":30.4},{"s":"Fixed-parameter","t":4.83,"v":29.9},{"s":"Fixed-parameter","t":4.92,"v":29.4},
{"s":"Fixed-parameter","t":5,"v":29.1}
]
},
"vconcat": [
{
"data": {"name": "a"},
"width": 540, "height": 163,
"title": {"text": "(a)", "offset": 15},
"encoding": {
"x": {"field": "t", "type": "quantitative", "scale": {"domain": [0, 5], "nice": false}, "axis": {"title": "Time (s)", "values": [0, 1, 2, 3, 4, 5]}},
"y": {"field": "v", "type": "quantitative", "scale": {"domain": [20, 100], "nice": false}, "axis": {"title": ["Junction", "Temperature (°C)"], "values": [20, 40, 60, 80, 100], "titlePadding": 9}}
},
"layer": [
{"transform": [{"filter": "datum.s !== 'Experiment'"}],
"mark": {"type": "line", "interpolate": "monotone", "strokeWidth": 2},
"encoding": {
"color": {"field": "s", "type": "nominal", "scale": {"domain": ["Improved", "FE", "Experiment", "Fixed-parameter", "Datasheet"], "range": ["#00ee00", "#0000ff", "#ff0000", "#000000", "#ff99cc"]},
"legend": {"orient": "none", "legendX": 18, "legendY": -16, "direction": "horizontal", "title": null, "symbolType": "stroke", "symbolSize": 841, "symbolStrokeWidth": 2, "labelFontSize": 15, "labelOffset": 2, "columnPadding": 1, "padding": 0}},
"strokeDash": {"field": "s", "type": "nominal", "scale": {"domain": ["Improved", "FE", "Experiment", "Fixed-parameter", "Datasheet"], "range": [[1, 0], [9, 6], [1, 0], [2, 2], [6, 3, 2, 3]]},
"legend": {"orient": "none", "legendX": 18, "legendY": -16, "direction": "horizontal", "title": null, "symbolType": "stroke", "symbolSize": 841, "symbolStrokeWidth": 2, "labelFontSize": 15, "labelOffset": 2, "columnPadding": 1, "padding": 0}}
}},
{"transform": [{"filter": "datum.s === 'Experiment'"}],
"mark": {"type": "line", "strokeWidth": 1},
"encoding": {
"color": {"field": "s", "type": "nominal", "scale": {"domain": ["Improved", "FE", "Experiment", "Fixed-parameter", "Datasheet"], "range": ["#00ee00", "#0000ff", "#ff0000", "#000000", "#ff99cc"]}},
"strokeDash": {"field": "s", "type": "nominal", "scale": {"domain": ["Improved", "FE", "Experiment", "Fixed-parameter", "Datasheet"], "range": [[1, 0], [9, 6], [1, 0], [2, 2], [6, 3, 2, 3]]}}
}},
{"transform": [{"filter": "datum.s === 'Experiment'"}],
"mark": {"type": "point", "filled": true, "size": 32, "color": "#ff0000", "opacity": 1},
"encoding": {
"shape": {"field": "s", "type": "nominal", "scale": {"domain": ["Experiment"], "range": ["circle"]},
"legend": {"orient": "none", "legendX": 186, "legendY": -4, "title": null, "labelExpr": "''", "labelFontSize": 1, "labelOffset": 0, "symbolSize": 32, "symbolStrokeWidth": 0, "symbolFillColor": "#ff0000", "padding": 0}}
}}
]
},
{
"data": {"name": "b"},
"width": 540, "height": 158,
"title": {"text": "(b)", "offset": 18},
"mark": {"type": "line", "interpolate": "monotone", "strokeWidth": 2},
"encoding": {
"x": {"field": "t", "type": "quantitative", "scale": {"domain": [0, 5], "nice": false}, "axis": {"title": "Time (s)", "values": [0, 1, 2, 3, 4, 5]}},
"y": {"field": "v", "type": "quantitative", "scale": {"domain": [20, 65], "nice": false}, "axis": {"title": ["Chip Solder", "Temperature (°C)"], "values": [20, 30, 40, 50, 60], "titlePadding": 18.5, "titleLineHeight": 24}},
"color": {"field": "s", "type": "nominal", "scale": {"domain": ["Improved", "FE", "Fixed-parameter"], "range": ["#00ee00", "#0000ff", "#000000"]},
"legend": {"orient": "none", "legendX": 102, "legendY": -17, "direction": "horizontal", "title": null, "symbolType": "stroke", "symbolSize": 1089, "symbolStrokeWidth": 2, "labelFontSize": 16, "labelOffset": 3, "columnPadding": 3, "padding": 0}},
"strokeDash": {"field": "s", "type": "nominal", "scale": {"domain": ["Improved", "FE", "Fixed-parameter"], "range": [[1, 0], [9, 6], [2, 2]]},
"legend": {"orient": "none", "legendX": 102, "legendY": -17, "direction": "horizontal", "title": null, "symbolType": "stroke", "symbolSize": 1089, "symbolStrokeWidth": 2, "labelFontSize": 16, "labelOffset": 3, "columnPadding": 3, "padding": 0}}
}
},
{
"data": {"name": "c"},
"width": 540, "height": 157,
"title": {"text": "(c)", "offset": 19},
"mark": {"type": "line", "interpolate": "monotone", "strokeWidth": 2},
"encoding": {
"x": {"field": "t", "type": "quantitative", "scale": {"domain": [0, 5], "nice": false}, "axis": {"title": "Time (s)", "values": [0, 1, 2, 3, 4, 5]}},
"y": {"field": "v", "type": "quantitative", "scale": {"domain": [25, 50], "nice": false}, "axis": {"title": ["Baseplate Solder", "Temperature (°C)"], "values": [25, 30, 35, 40, 45, 50], "titlePadding": 18.5, "titleLineHeight": 24}},
"color": {"field": "s", "type": "nominal", "scale": {"domain": ["Improved", "FE", "Fixed-parameter"], "range": ["#00ee00", "#0000ff", "#000000"]},
"legend": {"orient": "none", "legendX": 102, "legendY": -16, "direction": "horizontal", "title": null, "symbolType": "stroke", "symbolSize": 1089, "symbolStrokeWidth": 2, "labelFontSize": 16, "labelOffset": 3, "columnPadding": 3, "padding": 0}},
"strokeDash": {"field": "s", "type": "nominal", "scale": {"domain": ["Improved", "FE", "Fixed-parameter"], "range": [[1, 0], [9, 6], [2, 2]]},
"legend": {"orient": "none", "legendX": 102, "legendY": -16, "direction": "horizontal", "title": null, "symbolType": "stroke", "symbolSize": 1089, "symbolStrokeWidth": 2, "labelFontSize": 16, "labelOffset": 3, "columnPadding": 3, "padding": 0}}
}
}
],
"resolve": {"scale": {"color": "independent", "strokeDash": "independent", "shape": "independent", "x": "independent", "y": "independent"}, "legend": {"color": "independent", "strokeDash": "independent", "shape": "independent"}},
"config": {
"view": {"stroke": null},
"font": "Liberation Sans",
"axis": {"grid": false, "domainColor": "#404040", "domainWidth": 1, "tickColor": "#404040", "tickSize": -5, "labelColor": "#404040", "labelFont": "Liberation Sans", "labelFontSize": 15.5, "labelFlush": false, "labelOverlap": false, "titleFont": "Liberation Sans", "titleFontSize": 16, "titleFontWeight": "bold", "titleColor": "#1a1a1a"},
"axisX": {"labelPadding": 15, "titlePadding": -1},
"axisY": {"labelPadding": 10.5, "titleLineHeight": 21},
"legend": {"labelFont": "Liberation Sans", "labelColor": "#262626"},
"title": {"font": "Liberation Serif", "fontSize": 16.5, "fontWeight": "normal", "color": "#000000", "orient": "bottom", "offset": 14, "dx": -32, "anchor": "middle", "frame": "group"},
"line": {"strokeCap": "butt"}
}
}
